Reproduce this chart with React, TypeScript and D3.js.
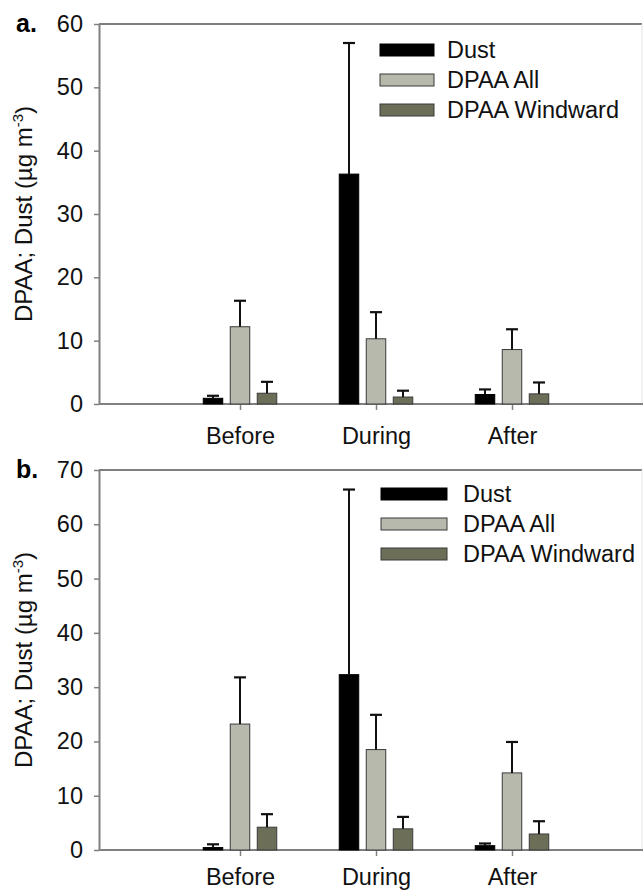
import { useEffect, useRef } from 'react';
import * as d3 from 'd3';

// categories and series
const categories = ['Before', 'During', 'After'];
const seriesNames = ['Dust', 'DPAA All', 'DPAA Windward'];

// panel a: means and (upper) standard deviations, in µg m-3
const aDust = [0.9, 36.3, 1.5];
const aDustSd = [0.4, 20.7, 0.8];
const aAll = [12.2, 10.3, 8.6];
const aAllSd = [4.1, 4.2, 3.2];
const aWind = [1.7, 1.1, 1.6];
const aWindSd = [1.8, 1.0, 1.8];

// panel b
const bDust = [0.45, 32.3, 0.8];
const bDustSd = [0.6, 34.1, 0.4];
const bAll = [23.2, 18.5, 14.2];
const bAllSd = [8.6, 6.4, 5.7];
const bWind = [4.2, 3.9, 2.95];
const bWindSd = [2.4, 2.2, 2.35];

const aTicks = [0, 10, 20, 30, 40, 50, 60];
const bTicks = [0, 10, 20, 30, 40, 50, 60, 70];

const colors = ['#000000', '#b7b9ac', '#6d6e57'];
const FONT = '"Liberation Sans", Arial, sans-serif';

const W = 643;
const H = 893;

const App = () => {
  const svgRef = useRef<SVGSVGElement>(null);

  useEffect(() => {
    const svg = d3.select(svgRef.current);
    svg.selectAll('*').remove();

    const panels = [
      {
        label: 'a.', top: 24, bottom: 404, ticks: aTicks, labelPad: 17,
        means: [aDust, aAll, aWind], sds: [aDustSd, aAllSd, aWindSd],
        legend: { x: 380, sw: 54, tx: 447, y0: 50 },
      },
      {
        label: 'b.', top: 470, bottom: 850, ticks: bTicks, labelPad: 12,
        means: [bDust, bAll, bWind], sds: [bDustSd, bAllSd, bWindSd],
        legend: { x: 381, sw: 66, tx: 463, y0: 494 },
      },
    ];

    const left = 99;
    const right = 642;

    // category positions 1..3 on a 0..4 axis
    const x = d3.scaleLinear().domain([0, 4]).range([104, 648]);
    const sub = d3.scaleBand<number>().domain([0, 1, 2]).range([-36.75, 36.75]).paddingInner(0.278);

    panels.forEach((p) => {
      const y = d3.scaleLinear().domain([0, d3.max(p.ticks)!]).range([p.bottom, p.top]);
      const g = svg.append('g');

      // frame: top and right
      g.append('line').attr('x1', left).attr('x2', right).attr('y1', p.top).attr('y2', p.top)
        .attr('stroke', '#555').attr('stroke-width', 1.5);
      g.append('line').attr('x1', right).attr('x2', right).attr('y1', p.top).attr('y2', p.bottom)
        .attr('stroke', '#e4e4e4').attr('stroke-width', 1);

      // y axis
      const yAxis = g.append('g').attr('transform', `translate(${left},0)`)
        .call(d3.axisLeft(y).tickValues(p.ticks).tickSize(5).tickPadding(11).tickSizeOuter(0));
      yAxis.select('.domain').attr('stroke', '#808080').attr('stroke-width', 2);
      yAxis.selectAll('.tick line').attr('stroke', '#808080').attr('stroke-width', 1.5);
      yAxis.selectAll('.tick text').attr('font-size', 23.5).attr('font-family', FONT).attr('fill', '#111');

      // x axis
      g.append('line').attr('x1', left).attr('x2', right + 1).attr('y1', p.bottom).attr('y2', p.bottom)
        .attr('stroke', '#808080').attr('stroke-width', 2);
      const xAxis = g.append('g').attr('transform', `translate(0,${p.bottom})`)
        .call(d3.axisBottom(x).tickValues([1, 2, 3]).tickSize(6).tickPadding(p.labelPad)
          .tickFormat((d) => categories[(d as number) - 1]));
      xAxis.select('.domain').remove();
      xAxis.selectAll('.tick line').attr('stroke', '#808080').attr('stroke-width', 1.5);
      xAxis.selectAll('.tick text').attr('font-size', 23.5).attr('font-family', FONT).attr('fill', '#111');

      // bars
      p.means.forEach((vals, s) => {
        const sg = g.append('g');
        vals.forEach((v, i) => {
          const bx = x(i + 1) + sub(s)!;
          sg.append('rect')
            .attr('x', bx).attr('y', y(v))
            .attr('width', sub.bandwidth()).attr('height', y(0) - y(v))
            .attr('fill', colors[s])
            .attr('stroke', s === 0 ? '#000' : '#3a3a3a').attr('stroke-width', 1);
          // upper error bar
          const cx = bx + sub.bandwidth() / 2;
          const top = y(v + p.sds[s][i]);
          sg.append('line').attr('x1', cx).attr('x2', cx).attr('y1', y(v)).attr('y2', top)
            .attr('stroke', '#111').attr('stroke-width', 2);
          sg.append('line').attr('x1', cx - 6).attr('x2', cx + 6).attr('y1', top).attr('y2', top)
            .attr('stroke', '#111').attr('stroke-width', 2.2);
        });
      });

      // legend
      seriesNames.forEach((name, s) => {
        const ly = p.legend.y0 + s * 30;
        g.append('rect').attr('x', p.legend.x).attr('y', ly - 6)
          .attr('width', p.legend.sw).attr('height', 12)
          .attr('fill', colors[s]).attr('stroke', s === 0 ? '#000' : '#3a3a3a').attr('stroke-width', 1);
        g.append('text').attr('x', p.legend.tx).attr('y', ly).attr('dy', '0.35em')
          .attr('font-size', 23.5).attr('font-family', FONT).attr('fill', '#111').text(name);
      });

      // panel label
      g.append('text').attr('x', 16).attr('y', p.top + 8)
        .attr('font-size', 25).attr('font-weight', 'bold').attr('font-family', FONT).text(p.label);

      // y title
      const t = g.append('text')
        .attr('transform', `translate(32,${(p.top + p.bottom) / 2}) rotate(-90)`)
        .attr('text-anchor', 'middle').attr('font-size', 24).attr('font-family', FONT).attr('fill', '#111');
      t.append('tspan').text('DPAA; Dust (µg m');
      t.append('tspan').attr('font-size', 15).attr('dy', -9).text('-3');
      t.append('tspan').attr('dy', 9).text(')');
    });
  }, []);

  return (
    <svg
      ref={svgRef}
      width={W}
      height={H}
      style={{ position: 'absolute', left: 0, top: 0, background: '#fff' }}
    />
  );
};

export default App;
